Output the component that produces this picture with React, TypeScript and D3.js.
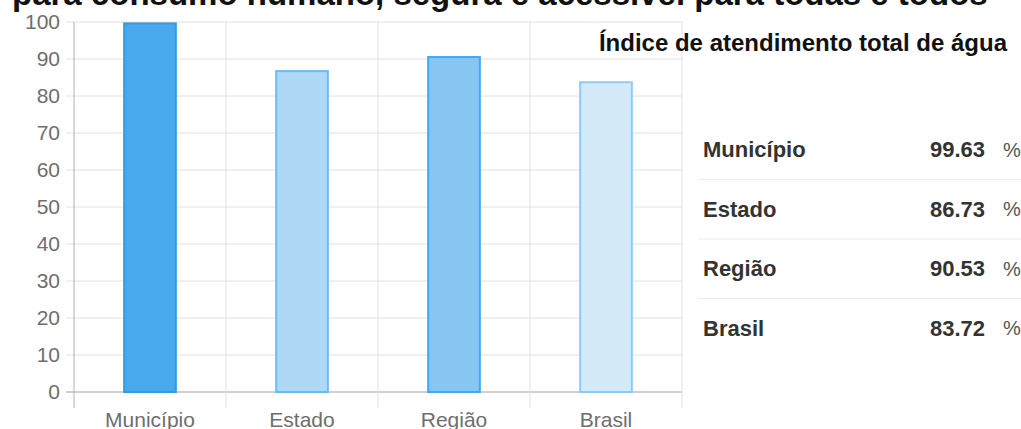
import * as d3 from "d3";

const categories = ["Município", "Estado", "Região", "Brasil"];
const values = [99.63, 86.73, 90.53, 83.72];
const yTicks = [0, 10, 20, 30, 40, 50, 60, 70, 80, 90, 100];
const fills = ["#4aa9ed", "#aed8f6", "#87c5f2", "#d5eaf9"];
const strokes = ["#309be9", "#6cbcf3", "#45a7ee", "#8fcbf4"];

const W = 1021;
const H = 429;
const margin = { top: 22, left: 74, right: 339, bottom: 37 };

export default function App() {
  const x = d3
    .scaleBand()
    .domain(categories)
    .range([margin.left, W - margin.right])
    .paddingInner(0)
    .paddingOuter(0);
  const y = d3
    .scaleLinear()
    .domain([0, 100])
    .range([H - margin.bottom, margin.top]);

  const barW = x.bandwidth() * 0.34;
  const bottom = y(0);
  const font = "'Liberation Sans', Arial, sans-serif";

  // right table rows
  const rowY = d3
    .scaleBand()
    .domain(categories)
    .range([120, 358]);

  return (
    <svg
      width={W}
      height={H}
      style={{ position: "absolute", left: 0, top: 0 }}
      fontFamily={font}
    >
      {/* cut-off page heading */}
      <text x={12} y={5} fontSize={33} fontWeight="bold" fill="#111">
        para consumo humano, segura e acessível para todas e todos
      </text>

      {/* horizontal grid + y ticks */}
      {yTicks.map((t) => (
        <g key={t}>
          <line
            x1={margin.left - 8}
            x2={W - margin.right}
            y1={y(t)}
            y2={y(t)}
            stroke={t === 0 ? "#a0a0a0" : "#e2e2e2"}
            strokeWidth={1}
          />
          <text
            x={margin.left - 14}
            y={y(t)}
            dy="0.35em"
            textAnchor="end"
            fontSize={21}
            fill="#6e6e6e"
          >
            {t}
          </text>
        </g>
      ))}

      {/* vertical grid lines at band edges */}
      {[...categories.map((c) => x(c)!), W - margin.right].map((vx, i) => (
        <line
          key={i}
          x1={vx}
          x2={vx}
          y1={margin.top}
          y2={bottom + 16}
          stroke={i === 0 ? "#b0b0b0" : "#e2e2e2"}
          strokeWidth={1}
        />
      ))}

      {/* bars */}
      {categories.map((c, i) => (
        <rect
          key={c}
          x={x(c)! + (x.bandwidth() - barW) / 2}
          y={y(values[i])}
          width={barW}
          height={bottom - y(values[i])}
          fill={fills[i]}
          stroke={strokes[i]}
          strokeWidth={2}
        />
      ))}

      {/* x labels */}
      {categories.map((c) => (
        <text
          key={c}
          x={x(c)! + x.bandwidth() / 2}
          y={427}
          textAnchor="middle"
          fontSize={21}
          fill="#6e6e6e"
        >
          {c}
        </text>
      ))}

      {/* right panel */}
      <text
        x={1007}
        y={51}
        textAnchor="end"
        fontSize={24}
        fontWeight="bold"
        fill="#111"
      >
        Índice de atendimento total de água
      </text>
      {categories.map((c, i) => {
        const top = rowY(c)!;
        const cy = top + rowY.bandwidth() / 2;
        return (
          <g key={c}>
            {i > 0 && (
              <line
                x1={698}
                x2={W}
                y1={top}
                y2={top}
                stroke="#ececec"
                strokeWidth={1}
              />
            )}
            <text
              x={703}
              y={cy}
              dy="0.35em"
              fontSize={22}
              fontWeight="bold"
              fill="#333"
            >
              {c}
            </text>
            <text
              x={985}
              y={cy}
              dy="0.35em"
              textAnchor="end"
              fontSize={22}
              fontWeight="bold"
              fill="#333"
            >
              {values[i].toFixed(2)}
            </text>
            <text x={1003} y={cy} dy="0.35em" fontSize={20} fill="#555">
              %
            </text>
          </g>
        );
      })}
    </svg>
  );
}
